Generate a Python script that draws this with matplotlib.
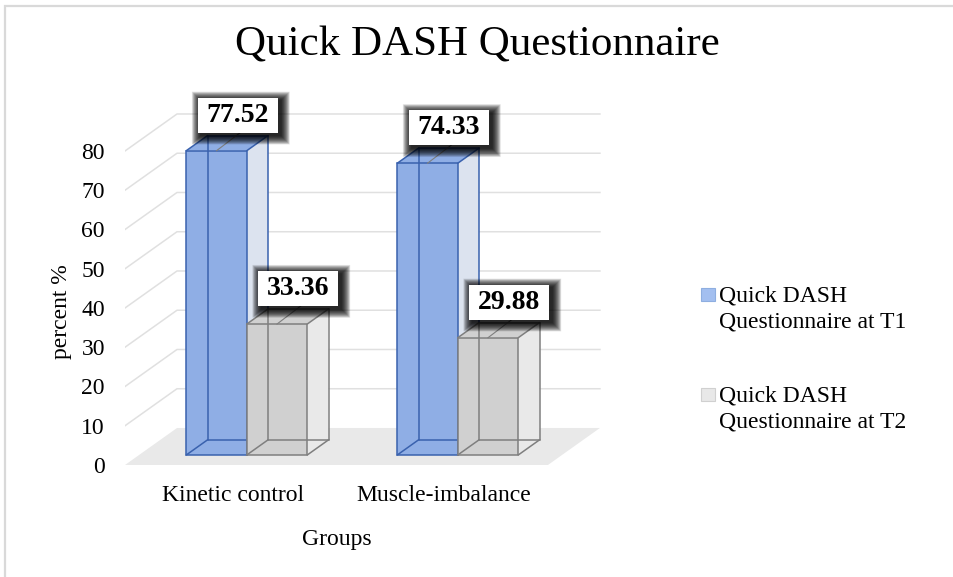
import matplotlib
matplotlib.use('Agg')
import matplotlib.pyplot as plt
from matplotlib.patches import Polygon, Rectangle

plt.rcParams['font.family'] = ['Liberation Serif', 'DejaVu Serif']

groups = ['Kinetic control', 'Muscle-imbalance']
t1 = [77.52, 74.33]
t2 = [33.36, 29.88]
series_names = ['Quick DASH Questionnaire at T1', 'Quick DASH Questionnaire at T2']
yticks = [0, 10, 20, 30, 40, 50, 60, 70, 80]

# fake 3d depth: x in group units, y in percent units
DX, DY = 0.2464, 9.43
D0, D1 = 0.27, 0.68      # front / back of the bars inside the floor depth
W = 0.2867               # bar width
XL, XR = -0.5104, 1.494  # floor ends (front)


def P(x, v, d):
    return (x + d * DX, v + d * DY)


fig = plt.figure(figsize=(9.54, 5.77), dpi=100)
ax = fig.add_axes([125 / 954, 1 - 470 / 577, 495 / 954, 380 / 577])
ax.set_xlim(-0.5104, 1.8355)
ax.set_ylim(-1.274, 95.54)
for s in ax.spines.values():
    s.set_visible(False)
# pixels per data unit, used for the label boxes
sx = 495 / (1.8355 + 0.5104)
sy = 380 / (95.54 + 1.274)

# floor and walls
ax.add_patch(Polygon([P(XL, 0, 0), P(XR, 0, 0), P(XR, 0, 1), P(XL, 0, 1)],
                     closed=True, fc='#e9e9e9', ec='none', zorder=0.5))
for t in yticks[1:]:
    xs, ys = zip(P(XL, t, 0), P(XL, t, 1), P(XR, t, 1))
    ax.plot(xs, ys, color='#e0e0e0', lw=1.1, zorder=0.6)


def faces(x0, v, top, side, ec, z):
    x1 = x0 + W
    ax.add_patch(Polygon([P(x1, 0, D0), P(x1, 0, D1), P(x1, v, D1), P(x1, v, D0)],
                         fc=side, ec='none', zorder=z))
    ax.add_patch(Polygon([P(x0, v, D0), P(x1, v, D0), P(x1, v, D1), P(x0, v, D1)],
                         fc=top, ec='none', zorder=z))
    edges = [
        (P(x0, v, D1), P(x1, v, D1)),
        (P(x0, v, D0), P(x0, v, D1)),
        (P(x1, v, D0), P(x1, v, D1)),
        (P(x1, v, D1), P(x1, 0, D1)),
        (P(x1, 0, D0), P(x1, 0, D1)),
        # hidden edges seen through the bar
        (P(x0, 0, D1), P(x0, v, D1)),
        (P(x0, 0, D1), P(x1, 0, D1)),
        (P(x0, 0, D0), P(x0, 0, D1)),
    ]
    for a, b in edges:
        ax.plot([a[0], b[0]], [a[1], b[1]], color=ec, lw=1.1, zorder=z + 0.2,
                solid_capstyle='round')


series = [
    (t1, [i - W for i in range(len(groups))], '#8faee5', '#dce3ef', '#3a62ae', 3),
    (t2, [i for i in range(len(groups))], '#d0d0d0', '#e9e9e9', '#7f7f7f', 5),
]
for vals, xs, fc, side, ec, z in series:
    for x0, v in zip(xs, vals):
        faces(x0, v, fc, side, ec, z)
    ax.bar([x + D0 * DX for x in xs], vals, width=W, bottom=D0 * DY, align='edge',
           color=fc, edgecolor=ec, lw=1.1, zorder=z + 0.1)


def label(x, y, s):
    # white callout box with a soft black shadow, sizes in pixels
    cx, cy = x, y + 20.5 / sy
    bw, bh = 80, 35
    n = 28
    for r in range(n):
        e = 9 - 9.0 * r / n
        ax.add_patch(Rectangle((cx + (3 - bw / 2 - e) / sx, cy + (-3 - bh / 2 - e) / sy),
                               (bw + 2 * e) / sx, (bh + 2 * e) / sy,
                               fc='black', ec='none', alpha=0.06, zorder=20, snap=False))
    ax.add_patch(Rectangle((cx - bw / 2 / sx, cy - bh / 2 / sy), bw / sx, bh / sy,
                           fc='white', ec='none', zorder=21))
    ax.text(cx, cy, s, ha='center', va='center', fontsize=20, fontweight='bold',
            color='black', zorder=22)


for vals, xs, fc, side, ec, z in series:
    for x0, v in zip(xs, vals):
        xc = x0 + W / 2
        a, b = P(xc, v, D0), P(xc, v, D1)
        ax.plot([a[0], b[0] + 0.03], [a[1], b[1] + 1.5], color='#7f7f7f', lw=0.8, zorder=z + 0.3)
        label(*P(xc, v, D1), '%.2f' % v)

ax.set_yticks(yticks, [str(t) for t in yticks])
ax.set_xticks(range(len(groups)), groups)
ax.tick_params(axis='y', length=0, pad=14.4, labelsize=17)
ax.tick_params(axis='x', length=0, pad=11, labelsize=17)
ax.set_ylabel('percent %', fontsize=17)
ax.yaxis.set_label_coords(-0.107, 0.418)
ax.set_xlabel('Groups', fontsize=17)
ax.xaxis.set_label_coords(0.428, -0.155)

fig.text(477.5 / 954, 1 - 56 / 577, 'Quick DASH Questionnaire', ha='center', va='baseline',
         fontsize=31)

# legend
leg_colors = [('#a3bff0', '#8eaee0'), ('#e8e8e8', '#d0d0d0')]
for k, (name, (fc, ec)) in enumerate(zip(series_names, leg_colors)):
    base = 301.7 + 100 * k
    fig.add_artist(Rectangle((701 / 954, 1 - (base - 0.5) / 577), 14 / 954, 13 / 577,
                             transform=fig.transFigure, fc=fc, ec=ec, lw=0.8))
    first, second = name[:10], name[11:]
    fig.text(719 / 954, 1 - base / 577, first, va='baseline', fontsize=17)
    fig.text(719 / 954, 1 - (base + 25.6) / 577, second, va='baseline', fontsize=17)

# chart frame
fig.add_artist(Rectangle((5.5 / 954, -0.1), 2, 1.1 - 5.5 / 577, transform=fig.transFigure,
                         fill=False, ec='#d9d9d9', lw=1.6))

fig.savefig('out.png', dpi=100)
